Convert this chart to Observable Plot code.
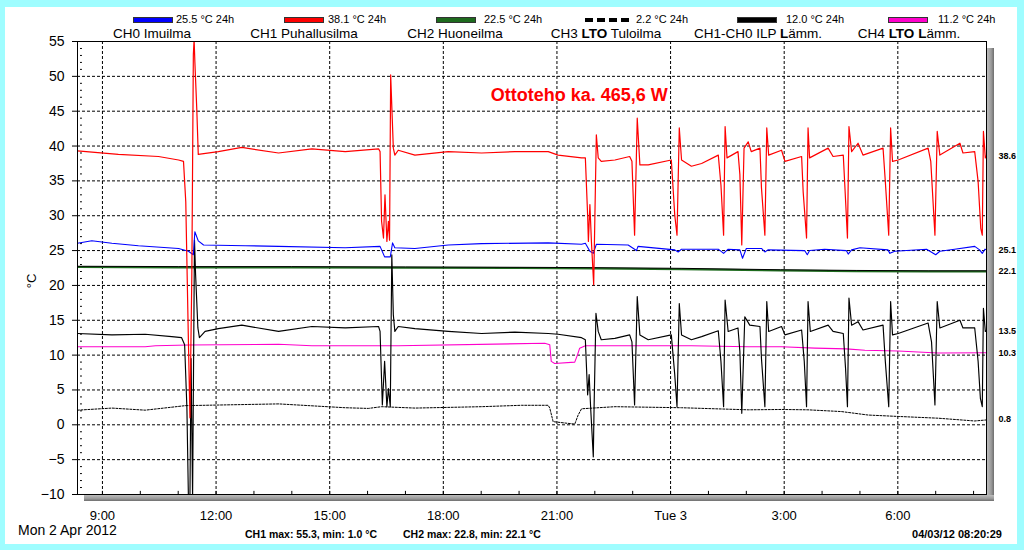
<!DOCTYPE html>
<html><head><meta charset="utf-8">
<script src="https://cdn.jsdelivr.net/npm/d3@7"></script>
<script src="https://cdn.jsdelivr.net/npm/@observablehq/plot@0.6"></script>
<style>
html,body{margin:0;padding:0;}
body{width:1024px;height:550px;background:#9ffdff;position:relative;overflow:hidden;font-family:Arial,"Liberation Sans",sans-serif;color:#000;}
.abs{position:absolute;white-space:nowrap;}
#panel{left:5px;top:7px;width:1012px;height:537px;background:#fff;}
#shR{left:987px;top:48px;width:7px;height:453px;background:linear-gradient(to right,#bdbdbd,#9a9a9a 60%,#6e6e6e);}
#shB{left:84px;top:495px;width:910px;height:6px;background:linear-gradient(to bottom,#bdbdbd,#9a9a9a 60%,#6e6e6e);}
#chart{left:0;top:0;}
.leg{font-size:11px;line-height:13px;top:13px;}
.sw{top:17px;height:6px;width:40px;box-sizing:border-box;border:1px solid #333;}
.dash{top:18px;height:4px;width:8px;background:#000;}
.ch{font-size:13.5px;line-height:14px;top:27px;transform:translateX(-50%);}
</style></head><body>
<div id="panel" class="abs"></div>
<div id="shR" class="abs"></div>
<div id="shB" class="abs"></div>
<div id="chart" class="abs"></div>
<div id="overlay"></div>
<script>
// ---- data ----
const channelNames = ["CH0 Imuilma", "CH1 Puhallusilma", "CH2 Huoneilma", "CH3 <b>LTO</b> Tuloilma", "CH1-CH0 ILP <b>L</b>ämm.", "CH4 <b>LTO</b> <b>L</b>ämm."];
const legendTexts = ["25.5 °C 24h", "38.1 °C 24h", "22.5 °C 24h", "2.2 °C 24h", "12.0 °C 24h", "11.2 °C 24h"];
const seriesColors = ["#0000ff", "#ff0000", "#1e6b1e", "#000000", "#000000", "#ff00cc"];
const xTicks = [9, 12, 15, 18, 21, 24, 27, 30];
const xTickLabels = ["9:00", "12:00", "15:00", "18:00", "21:00", "Tue 3", "3:00", "6:00"];
const yTicks = [-10, -5, 0, 5, 10, 15, 20, 25, 30, 35, 40, 45, 50, 55];
const rightLabels = [38.6, 25.1, 22.1, 13.5, 10.3, 0.8];
const annotation = "Ottoteho ka. 465,6 W";
const dateLabel = "Mon 2 Apr 2012";
const stat1 = "CH1 max: 55.3, min: 1.0 °C";
const stat2 = "CH2 max: 22.8, min: 22.1 °C";
const stamp = "04/03/12 08:20:29";
const tStart = 8 + 20/60 + 29/3600;   // hours since Mon 2 Apr 00:00
const tEnd = tStart + 24;

const ch1Puhallusilma = [[8.34,39.3],[9.42,38.8],[10.48,38.5],[11.01,38.0],[11.14,37.8],[11.20,32.0],[11.27,11.9],[11.31,1.0],[11.36,21.5],[11.40,53.1],[11.42,55.3],[11.44,52.1],[11.49,45.4],[11.53,38.8],[12.06,39.2],[12.68,39.8],[13.65,39.0],[14.53,39.6],[15.41,39.2],[16.29,39.6],[16.33,39.2],[16.37,29.2],[16.42,26.8],[16.46,33.0],[16.51,26.3],[16.55,29.2],[16.58,26.5],[16.61,50.2],[16.68,39.7],[16.72,38.7],[16.81,39.4],[17.25,38.7],[18.13,39.2],[19.01,39.0],[19.89,39.2],[20.77,39.2],[21.03,38.7],[21.65,38.3],[21.75,38.3],[21.81,30.1],[21.83,26.3],[21.87,31.6],[21.91,26.3],[21.97,20.1],[22.04,41.6],[22.09,38.3],[22.17,37.8],[22.53,38.0],[22.92,38.5],[22.98,37.8],[23.05,27.2],[23.12,44.0],[23.19,37.3],[23.41,37.3],[24.02,38.0],[24.11,30.1],[24.17,27.2],[24.23,42.6],[24.29,38.0],[24.55,37.1],[24.82,37.5],[25.26,38.7],[25.33,34.4],[25.40,27.2],[25.44,42.8],[25.49,38.3],[25.78,39.2],[25.83,35.9],[25.88,25.8],[25.94,39.7],[26.05,40.6],[26.13,39.2],[26.36,39.7],[26.40,34.0],[26.49,27.2],[26.54,42.6],[26.59,38.7],[26.93,39.4],[27.02,37.8],[27.46,38.5],[27.50,33.5],[27.59,26.8],[27.63,42.6],[27.67,38.3],[28.16,39.7],[28.29,38.5],[28.56,38.7],[28.60,34.4],[28.67,26.8],[28.71,42.8],[28.78,39.2],[28.95,40.4],[29.08,38.7],[29.61,39.7],[29.67,34.9],[29.76,27.2],[29.81,42.6],[29.86,37.8],[30.01,38.0],[30.80,39.7],[30.87,37.8],[30.98,27.2],[31.04,42.1],[31.11,38.7],[31.64,40.4],[31.72,39.0],[32.03,39.2],[32.12,34.9],[32.19,28.2],[32.23,27.2],[32.26,42.1],[32.31,38.3],[32.34,38.6]];

const ch0Imuilma = [[8.34,26.05],[8.72,26.4],[9.25,26.05],[9.95,25.7],[11.01,25.3],[11.27,24.9],[11.40,24.4],[11.44,27.7],[11.53,26.4],[11.67,25.8],[12.77,25.7],[13.65,25.6],[15.41,25.4],[16.33,25.6],[16.45,24.1],[16.60,24.1],[16.66,26.1],[16.72,25.4],[17.25,25.3],[18.13,25.8],[19.01,26.0],[20.77,26.1],[21.65,25.9],[21.75,26.05],[21.87,24.9],[21.96,24.6],[22.04,25.9],[22.88,25.8],[23.10,25.0],[23.14,25.6],[24.11,25.1],[24.20,24.8],[24.29,25.2],[25.26,25.2],[25.40,24.6],[25.52,25.2],[25.83,25.1],[25.90,23.9],[26.00,25.3],[26.40,25.3],[26.49,24.8],[26.57,25.1],[27.54,25.0],[27.61,24.4],[27.67,25.0],[28.07,25.2],[28.64,25.0],[28.69,24.5],[28.78,25.1],[29.00,25.4],[29.74,25.1],[29.79,24.6],[29.92,24.9],[30.76,25.2],[31.00,24.4],[31.11,24.9],[31.50,25.2],[32.03,25.6],[32.16,25.1],[32.23,24.6],[32.30,25.2],[32.34,25.1]];

const ch2Huoneilma = [[8.34,22.75],[11.0,22.7],[14.0,22.7],[17.0,22.65],[20.0,22.6],[22.0,22.55],[24.3,22.45],[26.9,22.25],[28.9,22.15],[30.8,22.1],[32.34,22.1]];

const ch3LtoTuloilma = [[8.34,2.1],[9.25,2.4],[10.13,2.1],[11.19,2.75],[13.65,3.0],[15.41,2.45],[16.02,2.35],[16.37,2.6],[17.25,2.4],[19.01,2.6],[20.06,2.8],[20.77,2.8],[20.81,2.4],[20.90,0.45],[21.47,0.1],[21.56,1.4],[21.65,2.3],[22.53,2.6],[24.29,2.45],[26.05,2.15],[26.93,2.2],[27.63,2.15],[28.51,1.9],[29.22,1.4],[30.01,1.2],[31.06,0.95],[32.03,0.55],[32.34,0.7]];

const ilpLamm = [[8.34,13.1],[9.25,12.9],[10.13,13.0],[10.83,12.65],[11.09,12.5],[11.17,11.5],[11.23,2.4],[11.27,-10.5],[11.31,-10.5],[11.34,9.5],[11.38,-10.5],[11.43,26.5],[11.46,21.5],[11.52,13.9],[11.56,12.5],[11.71,13.4],[12.06,13.8],[12.68,14.3],[13.65,13.4],[14.53,14.1],[15.41,13.9],[16.29,14.1],[16.33,13.4],[16.39,2.85],[16.45,9.1],[16.51,2.6],[16.55,5.2],[16.60,2.6],[16.64,24.4],[16.68,15.8],[16.72,13.4],[16.81,14.1],[17.25,13.8],[18.13,13.4],[19.01,13.1],[19.89,13.3],[20.77,13.1],[21.03,13.0],[21.65,12.5],[21.75,12.2],[21.81,4.3],[21.85,7.2],[21.89,2.4],[21.96,-4.6],[21.98,2.4],[22.03,16.0],[22.09,13.4],[22.17,12.2],[22.53,12.4],[22.92,12.9],[22.98,11.9],[23.05,2.85],[23.12,18.4],[23.19,12.9],[23.41,12.2],[24.02,12.9],[24.11,7.2],[24.17,2.6],[24.23,17.4],[24.29,12.9],[24.55,12.2],[24.82,12.65],[25.26,13.5],[25.33,9.1],[25.40,2.6],[25.44,17.9],[25.52,13.4],[25.78,13.9],[25.83,10.5],[25.88,1.65],[25.96,15.5],[26.09,14.3],[26.36,14.1],[26.40,9.5],[26.49,2.6],[26.54,17.7],[26.59,13.4],[26.93,14.1],[27.02,12.9],[27.46,13.6],[27.53,9.1],[27.59,2.6],[27.63,17.7],[27.69,13.4],[28.16,14.3],[28.29,13.4],[28.56,13.1],[28.62,8.1],[28.67,2.6],[28.71,18.2],[28.78,14.3],[28.95,14.8],[29.08,13.6],[29.61,14.3],[29.67,9.1],[29.76,2.6],[29.81,17.7],[29.86,12.9],[30.01,13.1],[30.80,14.6],[30.89,11.9],[30.98,2.85],[31.04,17.7],[31.11,13.9],[31.64,15.0],[31.72,13.9],[32.03,13.9],[32.12,9.1],[32.18,3.8],[32.23,2.6],[32.26,16.7],[32.31,13.4],[32.34,13.5]];

const ch4LtoLamm = [[8.34,11.2],[10.13,11.2],[10.4,11.35],[11.27,11.45],[13.65,11.55],[14.53,11.35],[16.81,11.35],[20.68,11.7],[20.81,11.5],[20.85,9.1],[20.94,8.8],[21.47,9.0],[21.54,10.0],[21.60,11.0],[21.75,11.35],[24.55,11.35],[26.05,11.2],[26.93,11.2],[27.81,11.0],[28.64,10.9],[29.13,10.7],[30.01,10.6],[31.06,10.3],[32.34,10.35]];

// ---- layout helpers ----
const yGrid = yTicks.filter(v => v > -10 && v < 55);
const yMinor = d3.range(-9, 55, 1).filter(v => v % 5 !== 0);
const xMinor = d3.range(9, 33, 1);
const line = (data, opts) => Plot.line(data, Object.assign({x: d => d[0], y: d => d[1], clip: true, strokeWidth: 1}, opts));

const chart = Plot.plot({
  width: 1024, height: 550,
  marginLeft: 77, marginRight: 38, marginTop: 41, marginBottom: 56,
  style: {background: "transparent", fontFamily: "Arial, 'Liberation Sans', sans-serif", overflow: "visible", color: "#000"},
  x: {domain: [tStart, tEnd]},
  y: {domain: [-10, 55]},
  marks: [
    Plot.gridX({ticks: xTicks, stroke: "#000", strokeOpacity: 1, strokeDasharray: "3,2"}),
    Plot.gridY({ticks: yGrid, stroke: "#000", strokeOpacity: 1, strokeDasharray: "3,2"}),
    Plot.ruleY(yMinor, {y: d => d, x1: () => tStart + 0.08, x2: () => tStart + 0.13, stroke: "#000"}),
    Plot.ruleX(xMinor, {x: d => d, y1: () => -10, y2: () => -9.55, stroke: "#000"}),
    line(ch3LtoTuloilma, {stroke: seriesColors[3], strokeDasharray: "2,1.5"}),
    line(ch4LtoLamm, {stroke: seriesColors[5], strokeWidth: 1.1}),
    line(ch2Huoneilma, {stroke: seriesColors[2], strokeWidth: 2, dy: 0.8}),
    line(ch2Huoneilma, {stroke: "#000", strokeWidth: 1}),
    line(ilpLamm, {stroke: seriesColors[4], strokeWidth: 1.15}),
    line(ch0Imuilma, {stroke: seriesColors[0], strokeWidth: 1.1}),
    line(ch1Puhallusilma, {stroke: seriesColors[1], strokeWidth: 1.2}),
    Plot.frame({stroke: "#000"}),
    Plot.text([annotation], {x: () => 21.59, y: () => 47.25, text: d => d, fill: "#ff0000", fontSize: 18, fontWeight: "bold"}),
    Plot.text(rightLabels, {x: () => tEnd, y: d => d, text: d => d.toFixed(1), dx: 12, textAnchor: "start", fontSize: 9, fontWeight: "bold", fill: "#000"}),
    Plot.axisY({ticks: yTicks, tickSize: 5, tickPadding: 8, fontSize: 14, label: null}),
    Plot.axisX({ticks: xTicks, tickSize: 0, tickPadding: 16, fontSize: 13, label: null, tickFormat: d => xTickLabels[xTicks.indexOf(d)]})
  ]
});
document.getElementById("chart").appendChild(chart);

// ---- legend / titles ----
const ov = document.getElementById("overlay");
const swLeft = [133, 284, 436, 585, 737, 888];
const txLeft = [176, 328, 484, 636, 786, 938];
const chCenter = [152, 304, 455, 606, 758, 909];
let html = "";
legendTexts.forEach((t, i) => {
  if (i === 3) {
    for (let k = 0; k < 4; k++) html += `<div class="abs dash" style="left:${swLeft[i] + k * 12}px"></div>`;
  } else {
    html += `<div class="abs sw" style="left:${swLeft[i]}px;background:${seriesColors[i]}"></div>`;
  }
  html += `<div class="abs leg" style="left:${txLeft[i]}px">${t}</div>`;
  html += `<div class="abs ch" style="left:${chCenter[i]}px">${channelNames[i]}</div>`;
});
html += `<div class="abs" style="left:31px;top:281px;font-size:13px;transform:translate(-50%,-50%) rotate(-90deg)">°C</div>`;
html += `<div class="abs" style="left:18px;top:522px;font-size:14px;line-height:16px">${dateLabel}</div>`;
html += `<div class="abs" style="left:245px;top:528px;font-size:10.5px;line-height:13px;font-weight:bold">${stat1}</div>`;
html += `<div class="abs" style="left:403px;top:528px;font-size:10.5px;line-height:13px;font-weight:bold">${stat2}</div>`;
html += `<div class="abs" style="right:22px;top:527px;font-size:11px;line-height:14px;font-weight:bold">${stamp}</div>`;
ov.innerHTML = html;
</script>
</body></html>
